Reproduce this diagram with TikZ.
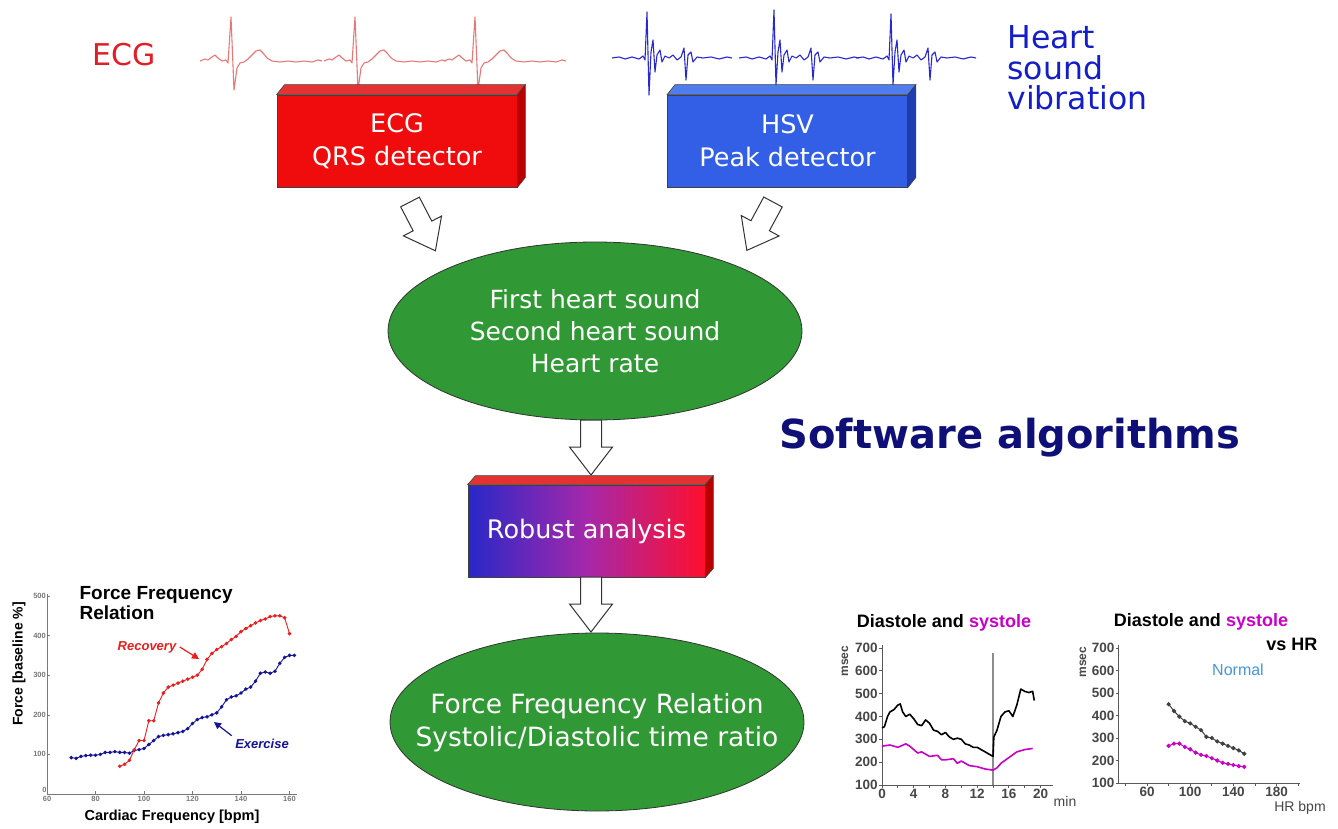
\documentclass[tikz,border=0pt]{standalone}
\usepackage{fontspec}
\setmainfont{DejaVu Sans}
\newfontfamily\arialf{Liberation Sans}
\usetikzlibrary{calc,shapes.geometric,arrows.meta}
\definecolor{ecgred}{RGB}{232,120,120}
\definecolor{hsvblue}{RGB}{40,40,210}
\definecolor{labred}{RGB}{225,30,40}
\definecolor{labblue}{RGB}{20,30,200}
\definecolor{boxred}{RGB}{240,12,12}
\definecolor{boxredtop}{RGB}{228,50,50}
\definecolor{boxredside}{RGB}{185,0,0}
\definecolor{boxblue}{RGB}{50,95,230}
\definecolor{boxbluetop}{RGB}{80,125,238}
\definecolor{boxblueside}{RGB}{30,60,180}
\definecolor{ellgreen}{RGB}{48,152,52}
\definecolor{navytext}{RGB}{15,15,120}
\definecolor{gradblue}{RGB}{40,40,200}
\definecolor{gradmid}{RGB}{165,40,170}
\definecolor{gradred}{RGB}{255,15,45}
\definecolor{magline}{RGB}{200,0,200}
\definecolor{normalblue}{RGB}{70,150,220}
\definecolor{axisgray}{RGB}{120,120,120}
\definecolor{ticktext}{RGB}{70,70,70}
\definecolor{recred}{RGB}{235,30,30}
\definecolor{exblue}{RGB}{20,20,150}
\tikzset{
  box3d/.style={draw=black!75, line width=0.8pt, minimum width=240pt, minimum height=92pt,
    text=white, align=center, inner sep=0pt, font=\fontsize{25.5}{33}\selectfont},
  ellnode/.style={ellipse, draw=black!80, line width=0.8pt, fill=ellgreen, minimum width=414pt,
    minimum height=178pt, inner sep=0pt},
  elltext/.style={text=white, align=center, inner sep=0pt},
  ecgline/.style={ecgred, line width=1.1pt, line join=round},
  hsvline/.style={hsvblue, line width=1.1pt, line join=round},
  blockarrow/.pic={\draw[line width=1pt, fill=white, draw=black!80, line join=miter]
    (0,-10.5) -- (27,-10.5) -- (27,-21.5) -- (55,0) -- (27,21.5) -- (27,10.5) -- (0,10.5) -- cycle;},
  ticklab/.style={font=\arialf\bfseries\fontsize{13.5}{13.5}\selectfont, text=ticktext, inner sep=1pt},
  tinylab/.style={font=\arialf\bfseries\fontsize{7.5}{8}\selectfont, text=axisgray, inner sep=1pt},
  chartaxis/.style={black!65, line width=0.9pt},
  ctitle/.style={font=\arialf\bfseries\fontsize{18}{18}\selectfont},
}
\begin{document}
\begin{tikzpicture}[x=1pt,y=-1pt]
\useasboundingbox (0,0) rectangle (1338,829);
\fill[white] (0,0) rectangle (1338,829);

% ---------- top labels ----------
\node[text=labred, font=\fontsize{30}{30}\selectfont] (ecglab) at (124,55) {ECG};
\node[text=labblue, font=\fontsize{31.5}{30.5}\selectfont, align=left, anchor=west] (hsvlab) at (1004,68) {Heart\\sound\\vibration};

% ---------- ECG trace ----------
\foreach \r in {231,355,475}{
  \draw[ecgline, shift={(\r,0)}] plot coordinates {(-31,61) (-26,59) (-23,60) (-19,57) (-16,55) (-13,58) (-9,61) (-5,60) (-3,63) (0,17) (3,90) (6,68) (9,63) (13,62) (17,59) (21,55) (25,51) (29,50) (32,53) (36,58) (41,61) (49,62) (57,61) (65,62) (73,61) (81,62) (87,60) (91,61)};
}
% ---------- HSV trace ----------
\foreach \r/\hi/\lo in {647/12/95,774/10/85,891/14/85}{
  \draw[hsvline, shift={(\r,0)}] plot coordinates {(-35,58) (-28,57) (-22,59) (-15,57) (-8,59) (-4,56) (-2,60) (0,\hi) (2,\lo) (4,52) (6,40) (8,72) (10,55) (13,50) (15,62) (18,56) (22,58) (26,55) (30,60) (34,57) (37,48) (39,80) (41,55) (44,52) (46,62) (50,57) (56,58) (64,57) (72,59) (80,57) (85,58)};
}

% ---------- detector boxes ----------
\node[box3d, fill=boxred] (ecg) at (397,141) {ECG\\QRS detector};
\filldraw[fill=boxredtop, draw=black!75, line width=0.6pt] (ecg.north west) -- ++(8,-10) -- ($(ecg.north east)+(8,-10)$) -- (ecg.north east) -- cycle;
\filldraw[fill=boxredside, draw=black!75, line width=0.6pt] (ecg.north east) -- ++(8,-10) -- ($(ecg.south east)+(8,-10)$) -- (ecg.south east) -- cycle;

\node[box3d, fill=boxblue] (hsv) at (787.5,141) {HSV\\Peak detector};
\filldraw[fill=boxbluetop, draw=black!75, line width=0.6pt] (hsv.north west) -- ++(8,-10) -- ($(hsv.north east)+(8,-10)$) -- (hsv.north east) -- cycle;
\filldraw[fill=boxblueside, draw=black!75, line width=0.6pt] (hsv.north east) -- ++(8,-10) -- ($(hsv.south east)+(8,-10)$) -- (hsv.south east) -- cycle;

% ---------- ellipse 1 ----------
\node[ellnode] (e1) at (595,331) {};
\node[elltext, font=\fontsize{25}{32}\selectfont] (e1t) at (e1.center) {First heart sound\\Second heart sound\\Heart rate};

\pic[rotate=-62.5] at (410,202) {blockarrow};
\pic[rotate=-118.4] at (773,202) {blockarrow};
\pic[rotate=-90] at (591,420) {blockarrow};

% ---------- software algorithms ----------
\node[text=navytext, font=\bfseries\fontsize{40}{40}\selectfont] (soft) at (1010,438) {Software algorithms};

% ---------- robust analysis ----------
\node[box3d, left color=gradblue, right color=gradred, middle color=gradmid, minimum width=237pt] (rob) at (586.5,531) {Robust analysis};
\filldraw[fill=boxredtop, draw=black!75, line width=0.6pt] (rob.north west) -- ++(8,-9) -- ($(rob.north east)+(8,-9)$) -- (rob.north east) -- cycle;
\filldraw[fill=boxredside, draw=black!75, line width=0.6pt] (rob.north east) -- ++(8,-9) -- ($(rob.south east)+(8,-9)$) -- (rob.south east) -- cycle;

\pic[rotate=-90] at (591,577) {blockarrow};

% ---------- ellipse 2 ----------
\node[ellnode] (e2) at (597,722) {};
\node[elltext, font=\fontsize{26.5}{33}\selectfont, yshift=-1pt] (e2t) at (e2.center) {Force Frequency Relation\\Systolic/Diastolic time ratio};

% ---------- chart 1: force frequency ----------
\node[anchor=north west, align=left, font=\arialf\bfseries\fontsize{19}{20}\selectfont] (fftitle) at (76,583) {Force Frequency\\Relation};
\begin{scope}[shift={(-98.5,794)}, x=2.425pt, y=0.396pt]
  \draw[axisgray, line width=0.8pt] (60,505) -- (60,0) -- (163,0);
  \foreach \v in {100,200,...,500}{
    \draw[axisgray] (60,\v) -- (61.2,\v);
    \node[tinylab, anchor=east] at (60,\v) {\v};
  }
  \node[tinylab, anchor=south east] at (60.3,1) {0};
  \foreach \f in {60,80,...,160}{
    \draw[axisgray] (\f,0) -- (\f,8);
    \node[tinylab, anchor=north] at (\f,-2) {\f};
  }
  \draw[exblue, line width=0.9pt] plot[mark=*, mark size=1.3pt, mark options={fill=exblue}] coordinates {(70,92) (72,90) (74,95) (76,97) (78,98) (80,98) (82,100) (84,105) (86,105) (88,107) (90,105) (92,105) (94,103) (96,110) (98,112) (100,115) (102,125) (104,135) (106,145) (108,148) (110,150) (112,152) (114,155) (116,158) (118,165) (120,178) (122,188) (124,193) (126,195) (128,200) (130,205) (132,220) (134,238) (136,245) (138,248) (140,255) (142,265) (144,270) (146,285) (148,305) (150,308) (152,305) (154,310) (156,330) (158,345) (160,350) (162,350)};
  \draw[recred, line width=0.9pt] plot[mark=*, mark size=1.3pt, mark options={fill=recred}] coordinates {(90,70) (92,75) (94,85) (96,112) (98,135) (100,135) (102,185) (104,185) (106,230) (108,255) (110,270) (112,275) (114,280) (116,285) (118,290) (120,295) (122,300) (124,315) (126,340) (128,355) (130,365) (132,372) (134,380) (136,390) (138,398) (140,410) (142,418) (144,425) (146,432) (148,438) (150,442) (152,448) (154,450) (156,450) (158,445) (160,405)};
\end{scope}
\node[rotate=90, font=\arialf\bfseries\fontsize{14}{14}\selectfont] (ffy) at (19,664) {Force [baseline \%]};
\node[font=\arialf\bfseries\fontsize{14.5}{14}\selectfont] (ffx) at (172,817) {Cardiac Frequency [bpm]};
\node[text=recred, font=\arialf\bfseries\itshape\fontsize{13}{13}\selectfont] (rec) at (147,647) {Recovery};
\coordinate (recend) at (199,659);
\draw[recred, line width=1.2pt, -{Triangle[length=7pt,width=7pt]}] (rec.east) -- (recend);
\node[text=exblue, font=\arialf\bfseries\itshape\fontsize{13}{13}\selectfont] (exe) at (262,744) {Exercise};
\coordinate (exend) at (214,722);
\draw[exblue, line width=1.2pt, -{Triangle[length=7pt,width=7pt]}] (exe.north west) -- (exend);

% ---------- chart 2: diastole/systole vs time ----------
\node[ctitle] (t2) at (944,623) {Diastole and \textcolor{magline}{systole}};
\begin{scope}[shift={(882,807.8)}, x=7.93pt, y=0.2283pt]
  \draw[chartaxis] (0,712) -- (0,100) -- (21.5,100);
  \foreach \m in {100,200,...,700}{
    \draw[chartaxis] (0,\m) -- (-0.35,\m);
    \node[ticklab, anchor=east] at (-0.4,\m) {\m};
  }
  \foreach \t in {0,2,...,20}{ \draw[chartaxis] (\t,100) -- (\t,88); }
  \foreach \t in {0,4,...,20}{ \node[ticklab, anchor=north] at (\t,88) {\t}; }
  \draw[black!45, line width=1.1pt] (14,100) -- (14,678);
  \draw[black, line width=1.6pt, line join=round] plot coordinates {(0,350) (0.3,355) (0.7,400) (1,420) (1.5,430) (2,450) (2.3,455) (2.6,420) (3,400) (3.5,410) (4,390) (4.5,365) (5,360) (5.5,385) (6,370) (6.5,340) (7,335) (7.5,320) (8,330) (8.5,310) (9,300) (9.5,305) (10,300) (10.5,280) (11,275) (11.5,265) (12,265) (12.5,255) (13,245) (13.5,235) (14,225) (14.1,310) (14.5,340) (15,400) (15.5,420) (16,425) (16.5,400) (17,450) (17.5,520) (18,510) (18.5,505) (19,510) (19.2,470)};
  \draw[magline, line width=1.6pt, line join=round] plot coordinates {(0,270) (1,275) (2,265) (3,280) (3.5,270) (4,255) (4.5,240) (5,245) (5.5,235) (6,225) (7,230) (7.5,210) (8,210) (9,215) (9.5,195) (10,205) (11,185) (12,180) (13,170) (14,165) (14.5,175) (15,195) (16,220) (17,245) (18,255) (19,260)};
\end{scope}
\node[rotate=90, font=\arialf\bfseries\fontsize{12}{12}\selectfont, text=ticktext] (ms2) at (845,661) {msec};
\node[font=\arialf\fontsize{14}{14}\selectfont, text=ticktext] (min2) at (1065,801) {min};

% ---------- chart 3: vs HR ----------
\node[ctitle] (t3) at (1201,622) {Diastole and \textcolor{magline}{systole}};
\node[ctitle, anchor=east] (t3b) at (1321,644) {vs HR};
\node[font=\arialf\fontsize{16}{16}\selectfont, text=normalblue] (norm) at (1238,670) {Normal};
\begin{scope}[shift={(1082.2,805.5)}, x=1.08pt, y=0.225pt]
  \draw[chartaxis] (34,712) -- (34,100) -- (202,100);
  \foreach \m in {100,200,...,700}{
    \draw[chartaxis] (34,\m) -- (31,\m);
    \node[ticklab, anchor=east] at (31,\m) {\m};
  }
  \foreach \h in {40,60,...,200}{ \draw[chartaxis] (\h,100) -- (\h,88); }
  \foreach \h in {60,100,140,180}{ \node[ticklab, anchor=north] at (\h,88) {\h}; }
  \draw[black!75, line width=1pt] plot[mark=*, mark size=1.6pt, mark options={fill=black!75}] coordinates {(80,450) (85,420) (90,395) (95,375) (100,365) (105,350) (110,335) (115,305) (120,300) (125,285) (130,275) (135,265) (140,255) (145,245) (150,230)};
  \draw[magline, line width=1pt] plot[mark=*, mark size=1.6pt, mark options={fill=magline}] coordinates {(80,265) (85,275) (90,275) (95,260) (100,250) (105,235) (110,225) (115,220) (120,210) (125,200) (130,190) (135,185) (140,180) (145,175) (150,172)};
\end{scope}
\node[rotate=90, font=\arialf\bfseries\fontsize{12}{12}\selectfont, text=ticktext] (ms3) at (1083,662) {msec};
\node[font=\arialf\fontsize{14}{14}\selectfont, text=ticktext] (hr3) at (1300,808) {HR bpm};
\end{tikzpicture}
\end{document}
